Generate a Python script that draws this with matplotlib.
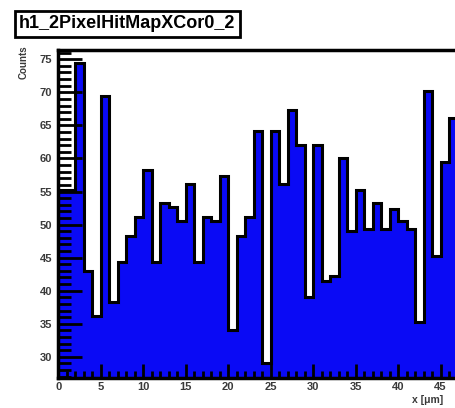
import numpy as np
import matplotlib
matplotlib.use("Agg")
import matplotlib.pyplot as plt
from matplotlib.ticker import MultipleLocator, FixedLocator

plt.rcParams['font.family'] = ['Liberation Sans', 'DejaVu Sans']

# Histogram content, one value per unit bin starting at x = 0
counts = [55.2, 55.2, 74.4, 43.0, 36.2, 69.5, 38.3, 44.4, 48.3, 51.2,
          58.2, 44.4, 53.3, 52.6, 50.5, 56.2, 44.4, 51.2, 50.5, 57.3,
          34.1, 48.3, 51.2, 64.2, 29.0, 64.1, 56.2, 67.3, 62.0, 39.1,
          62.0, 41.4, 42.3, 60.0, 49.0, 55.3, 49.4, 53.3, 49.4, 52.4,
          50.6, 49.4, 35.3, 70.2, 45.2, 59.5, 66.1]
bin_edges = np.arange(len(counts) + 1)
x_labels = [0, 5, 10, 15, 20, 25, 30, 35, 40, 45]

title = "h1_2PixelHitMapXCor0_2"
x_title = "x [\u03bcm]"
y_title = "Counts"

fig = plt.figure(figsize=(4.56, 4.08), dpi=100)
# the pad runs past the right border of the picture, like the cropped original
ax = fig.add_axes([58 / 456, 30 / 408, 425 / 456, 328 / 408])

ax.stairs(counts, bin_edges, baseline=0, fill=True, color="#0a0af5", zorder=1)
ax.stairs(counts, bin_edges, baseline=None, color="black", linewidth=2.2, zorder=2)

ax.set_xlim(-0.05, 50)
ax.set_ylim(26.8, 76.4)

ax.xaxis.set_major_locator(FixedLocator(x_labels))
ax.xaxis.set_minor_locator(MultipleLocator(1))
ax.yaxis.set_major_locator(MultipleLocator(5))
ax.yaxis.set_minor_locator(MultipleLocator(1))
ax.tick_params(which="both", direction="in", top=False, right=False,
               color="black", width=2, labelsize=8, labelcolor="#3a3a3a")
ax.tick_params(axis="y", which="major", length=17, pad=4)
ax.tick_params(axis="y", which="minor", length=9)
ax.tick_params(axis="x", which="major", length=10, pad=3)
ax.tick_params(axis="x", which="minor", length=5)
for lab in ax.get_xticklabels() + ax.get_yticklabels():
    lab.set_fontweight("bold")
for side in ax.spines.values():
    side.set_linewidth(2.5)
    side.set_zorder(3)
ax.set_axisbelow(False)

# axis titles placed like ROOT does (top of y axis, right end of x axis)
fig.text(24 / 456, 1 - 45 / 408, y_title, rotation=90, ha="center", va="top",
         fontsize=7, fontweight="bold", color="#3a3a3a")
fig.text(412 / 456, 1 - 400 / 408, x_title, ha="left", va="center",
         fontsize=7.5, fontweight="bold", color="#3a3a3a")

# title box
fig.text(19 / 456, 1 - 24 / 408, title, ha="left", va="center",
         fontsize=13, fontweight="bold", color="black",
         bbox=dict(boxstyle="square,pad=0.24", facecolor="white",
                   edgecolor="black", linewidth=2))

fig.savefig("out.png", dpi=100, facecolor="white")
